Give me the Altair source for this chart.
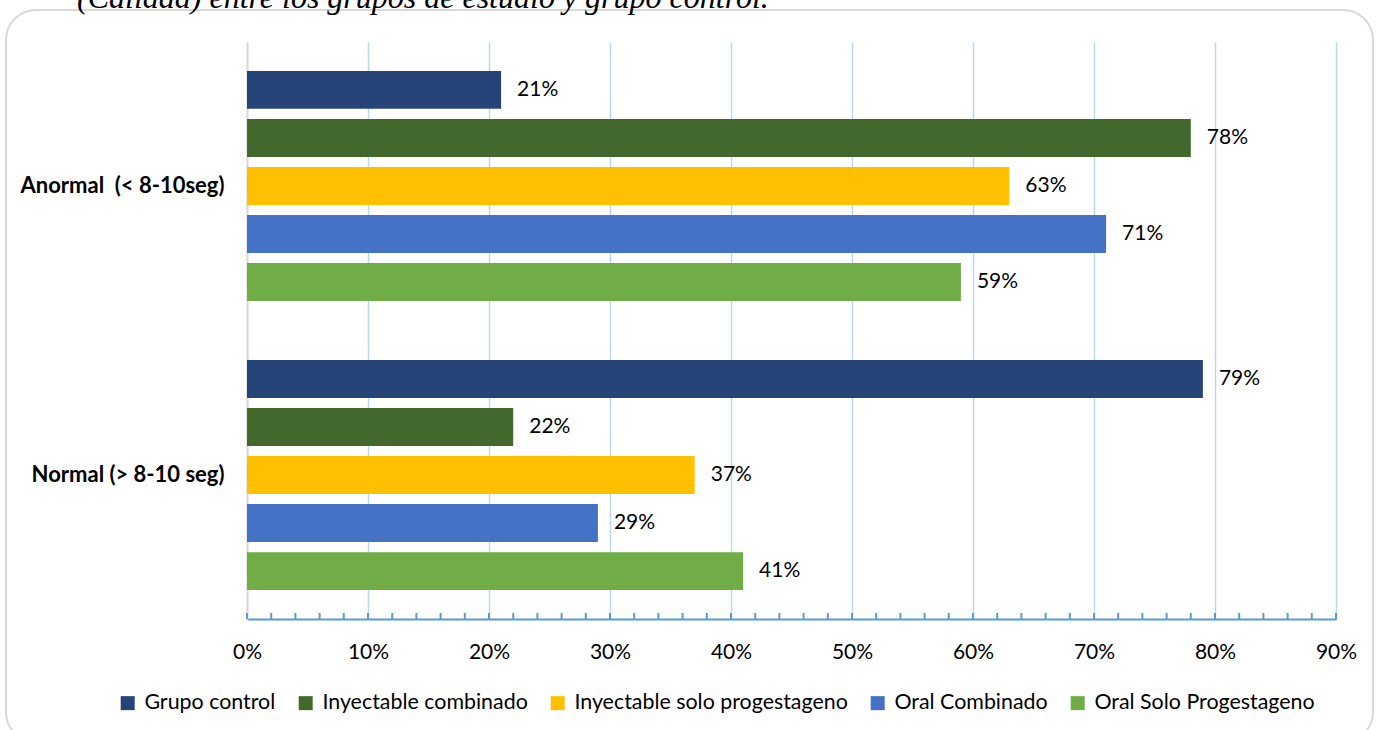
import altair as alt
import pandas as pd

categories = ["Anormal\u00a0 (< 8-10seg)", "Normal (> 8-10 seg)"]
series = ["Grupo control", "Inyectable combinado", "Inyectable solo progestageno",
          "Oral Combinado", "Oral Solo Progestageno"]
colors = ["#264478", "#43682b", "#ffc000", "#4472c4", "#70ad47"]
values = {
    "Grupo control": [0.21, 0.79],
    "Inyectable combinado": [0.78, 0.22],
    "Inyectable solo progestageno": [0.63, 0.37],
    "Oral Combinado": [0.71, 0.29],
    "Oral Solo Progestageno": [0.59, 0.41],
}
x_ticks = [0, 0.1, 0.2, 0.3, 0.4, 0.5, 0.6, 0.7, 0.8, 0.9]
minor_ticks = [i / 50 for i in range(46)]
title_text = "(Calidad) entre los grupos de estudio y grupo control."

rows = []
for s in series:
    for c, v in zip(categories, values[s]):
        rows.append({"cat": c, "serie": s, "val": v})
df = pd.DataFrame(rows)

W, H = 1089, 577
FONT = "Lato"

xscale = alt.Scale(domain=[0, 0.9], nice=False, zero=True)
yscale = alt.Scale(domain=categories, paddingInner=0.204, paddingOuter=0.1)
yoff_scale = alt.Scale(domain=series, paddingInner=0.21, paddingOuter=0)

frame = alt.Chart(alt.Data(values=[{"k": 1}])).mark_rect(
    fill="white", fillOpacity=0, stroke="#d9d9d9", strokeWidth=2, cornerRadius=30
).encode(
    x=alt.value(-241), x2=alt.value(1126), y=alt.value(-32), y2=alt.value(700)
)

title = alt.Chart(alt.Data(values=[{"t": title_text}])).mark_text(
    font="Liberation Serif", fontStyle="italic", fontSize=32, align="left",
    baseline="alphabetic", color="#000000"
).encode(x=alt.value(-170), y=alt.value(-34), text="t:N")

base = alt.Chart(df)

bars = base.mark_bar().encode(
    x=alt.X("val:Q", scale=xscale,
            axis=alt.Axis(values=x_ticks, format=".0%", title=None, tickSize=0,
                          labelPadding=22, labelFontSize=21, labelFont=FONT,
                          labelFlush=False, labelAlign="center",
                          labelColor="#000000", domainColor="#5b9bd5", domainWidth=2,
                          grid=True, gridWidth=1.5,
                          gridColor={"condition": {"test": "datum.value === 0", "value": "#d9d9d9"},
                                     "value": "#bdd7ee"})),
    y=alt.Y("cat:N", scale=yscale, sort=categories,
            axis=alt.Axis(title=None, ticks=False, labelPadding=23, labelFontSize=22,
                          labelFont=FONT, labelFontWeight="bold", labelColor="#000000",
                          domainColor="#d9d9d9", domainWidth=2, labelLimit=400)),
    yOffset=alt.YOffset("serie:N", scale=yoff_scale, sort=series),
    color=alt.Color("serie:N", scale=alt.Scale(domain=series, range=colors),
                    sort=series,
                    legend=alt.Legend(title=None, orient="none", direction="horizontal",
                                      columns=5, legendX=-130, legendY=650,
                                      symbolType="square", symbolSize=196,
                                      symbolStrokeWidth=0, labelFontSize=21.4,
                                      labelFont=FONT, labelColor="#000000",
                                      labelOffset=6, columnPadding=19, labelLimit=500)),
)

labels = base.mark_text(align="left", baseline="middle", dx=16, fontSize=21,
                        font=FONT, color="#000000").encode(
    x=alt.X("val:Q", scale=xscale),
    y=alt.Y("cat:N", scale=yscale, sort=categories),
    yOffset=alt.YOffset("serie:N", scale=yoff_scale, sort=series),
    text=alt.Text("val:Q", format=".0%"),
)

ticks = alt.Chart(pd.DataFrame({"t": minor_ticks})).mark_rule(
    color="#5b9bd5", strokeWidth=2
).encode(x=alt.X("t:Q", scale=xscale), y=alt.value(H - 6), y2=alt.value(H))

chart = alt.layer(frame, title, bars, labels, ticks).properties(
    width=W, height=H,
    autosize=alt.AutoSizeParams(type="none"),
    padding={"left": 247, "top": 42, "right": 42, "bottom": 111},
    background="white",
).configure_view(stroke=None)

chart.save("out.html", embed_options={"renderer": "svg", "actions": False})
